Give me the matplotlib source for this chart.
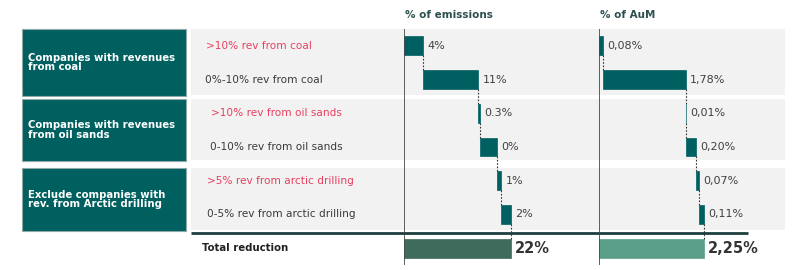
import matplotlib
matplotlib.use("Agg")
import matplotlib.pyplot as plt
from matplotlib.patches import Rectangle
import numpy as np

# ---------------- data ----------------
groups = ["Companies with revenues\nfrom coal",
          "Companies with revenues\nfrom oil sands",
          "Exclude companies with\nrev. from Arctic drilling"]
categories = [">10% rev from coal", "0%-10% rev from coal",
              ">10% rev from oil sands", "0-10% rev from oil sands",
              ">5% rev from arctic drilling", "0-5% rev from arctic drilling"]
highlight = [True, False, True, False, True, False]
emissions = [4.0, 11.3, 0.3, 3.5, 0.9, 2.0]
emissions_labels = ["4%", "11%", "0.3%", "0%", "1%", "2%"]
emissions_total_label = "22%"
aum = [0.08, 1.78, 0.01, 0.20, 0.07, 0.11]
aum_labels = ["0,08%", "1,78%", "0,01%", "0,20%", "0,07%", "0,11%"]
aum_total_label = "2,25%"
total_label = "Total reduction"
headers = ["% of emissions", "% of AuM"]

# ---------------- style ----------------
TEAL_BOX = "#00605F"
BAR = "#005F60"
TOT_EM = "#3E6B5C"
TOT_AUM = "#5B9F8B"
RED = "#E8405F"
GREY_BG = "#F2F2F2"
TXT = "#3A3A3A"
plt.rcParams["font.family"] = ["DejaVu Sans"]

W, H = 800, 270
fig = plt.figure(figsize=(W / 100, H / 100), dpi=100)

# background / layout axes in pixel coordinates
bg = fig.add_axes([0, 0, 1, 1])
bg.set_xlim(0, W)
bg.set_ylim(H, 0)
bg.axis("off")

row_top, row_step = 29.0, 33.7
def row_y(i):
    return row_top + (i + 0.5) * row_step

group_spans = [(29, 96), (99, 161), (168, 231)]
for gi, (y0, y1) in enumerate(group_spans):
    bg.add_patch(Rectangle((191, y0), 594, y1 - y0 - 1, facecolor=GREY_BG, edgecolor="none"))
    bg.add_patch(Rectangle((22, y0), 164, y1 - y0, facecolor=TEAL_BOX,
                           edgecolor="#8fa9a9", lw=0.8))
    bg.text(28, (y0 + y1) / 2, groups[gi], color="white", fontsize=7.3, fontweight="bold",
            va="center", ha="left", linespacing=0.95)

cat_x = [206, 205, 211, 210, 207, 207]
for i, c in enumerate(categories):
    bg.text(cat_x[i], row_y(i), c, fontsize=7.6, va="center", ha="left",
            color=RED if highlight[i] else TXT)

bg.plot([191, 748], [233, 233], color="#1E3F40", lw=2, solid_capstyle="butt")
bg.text(202, row_y(6), total_label, fontsize=7.3, fontweight="bold", va="center", color="#222222")

bg.text(405, 15, headers[0], fontsize=7.5, fontweight="bold", va="center", color="#2E4F4F")
bg.text(600, 15, headers[1], fontsize=7.5, fontweight="bold", va="center", color="#2E4F4F")

# ---------------- waterfall panels ----------------
ax_bottom_px, ax_top_px = 265, 29
nrows = 7
def panel(x_px, width_px, px_per_unit, values, labels, total_lab, total_color):
    ax = fig.add_axes([x_px / W, 1 - ax_bottom_px / H, width_px / W,
                       (ax_bottom_px - ax_top_px) / H])
    ax.set_facecolor("none")
    ax.set_xlim(0, width_px / px_per_unit)
    ax.set_ylim(nrows - 0.5, -0.5)
    ax.axis("off")
    vals = np.array(values)
    lefts = np.concatenate([[0], np.cumsum(vals)[:-1]])
    ends = lefts + vals
    ys = np.arange(len(vals))
    h = 0.56
    ax.barh(ys, vals, left=lefts, height=h, color=BAR, edgecolor=BAR, lw=0.5)
    total = vals.sum()
    ax.barh([len(vals)], [total], height=h, color=total_color, edgecolor=total_color, lw=0.5)
    ax.axvline(0, color="#444444", lw=1.2)
    # connectors
    all_ys = list(ys) + [len(vals)]
    for i in range(len(vals)):
        ax.plot([ends[i], ends[i]], [all_ys[i] + h / 2, all_ys[i + 1] - h / 2],
                color="#333333", lw=0.8, ls=(0, (1.5, 1.5)))
    for i in range(len(vals)):
        ax.annotate(labels[i], (ends[i], ys[i]), xytext=(3, 0), textcoords="offset points",
                    va="center", ha="left", fontsize=8, color="#404040")
    ax.annotate(total_lab, (total, len(vals)), xytext=(3, 0), textcoords="offset points",
                va="center", ha="left", fontsize=10.5, fontweight="bold", color="#333333")
    return ax

panel(404, 186, 107 / 22.0, emissions, emissions_labels, emissions_total_label, TOT_EM)
panel(599, 186, 105 / 2.25, aum, aum_labels, aum_total_label, TOT_AUM)

fig.savefig("out.png", dpi=100)
